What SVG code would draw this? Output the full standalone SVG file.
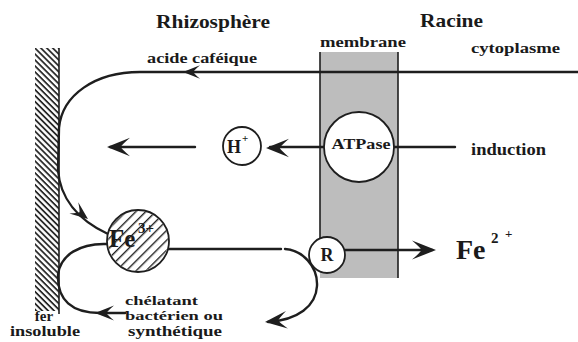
<svg xmlns="http://www.w3.org/2000/svg" xmlns:xlink="http://www.w3.org/1999/xlink" width="578" height="342" viewBox="0 0 578 342">
<defs>
<style>
text{font-family:"Liberation Serif","Times New Roman",serif;font-weight:bold;fill:#1a1a1a}
.ln{fill:none;stroke:#1e1e1e;stroke-width:2.4;stroke-linecap:round}
.thin{fill:none;stroke:#1e1e1e;stroke-width:1.6}
.circ{fill:#fff;stroke:#1e1e1e;stroke-width:1.8}
.ah{fill:#1e1e1e}
</style>
<pattern id="wallHatch" patternUnits="userSpaceOnUse" width="4.2" height="4.2" patternTransform="rotate(45)">
<rect x="0" y="0" width="4.2" height="1.8" fill="#2a2a2a"/>
</pattern>
<pattern id="feHatch" patternUnits="userSpaceOnUse" width="7" height="7" patternTransform="rotate(-45)">
<rect x="0" y="0" width="7" height="1.4" fill="#222"/>
</pattern>
<clipPath id="feClip"><circle cx="138" cy="241" r="30"/></clipPath>
<path id="ah" d="M0,0 L-20,-8 Q-13,-2 -12,0 Q-13,2 -20,8 Z"/>
</defs>
<rect width="578" height="342" fill="#fff"/>

<g id="labels">
<text x="156" y="28" font-size="19" textLength="114" lengthAdjust="spacingAndGlyphs">Rhizosphère</text>
<text x="420" y="27" font-size="19" textLength="63" lengthAdjust="spacingAndGlyphs">Racine</text>
<text x="471" y="53" font-size="15" textLength="89" lengthAdjust="spacingAndGlyphs">cytoplasme</text>
</g>

<g id="wall">
<rect x="35" y="48" width="24" height="263" fill="url(#wallHatch)"/>
<line x1="59" y1="48" x2="59" y2="314" stroke="#1e1e1e" stroke-width="1.6"/>
<text x="44" y="321" font-size="15" text-anchor="middle">fer</text>
<text x="10" y="336" font-size="15" textLength="70" lengthAdjust="spacingAndGlyphs">insoluble</text>
</g>

<g id="membrane">
<rect x="320" y="52" width="78" height="226" fill="#bdbdbd"/>
<line x1="320" y1="52" x2="320" y2="250" class="thin"/>
<line x1="398" y1="52" x2="398" y2="278" class="thin"/>
<text x="320" y="47" font-size="15" textLength="86" lengthAdjust="spacingAndGlyphs">membrane</text>
</g>

<g id="connectors">
<path class="ln" d="M578,72 L140,72 C95,72 62,95 59,128 L58,170 C60,198 78,220 108,234"/>
<path class="ln" d="M455,147 L394,147"/>
<path class="ln" d="M324,147 L270,147"/>
<path class="ln" d="M195,147 L110,147"/>
<path class="ln" d="M168,249 L281,249"/>
<path class="ln" d="M285,249 C302,250 318,266 317,286 C316,306 298,320 268,322"/>
<path class="ln" d="M107,244 C80,243 60,255 58,275 C57,300 72,313 100,313 L125,313"/>
<path class="ln" d="M345,250 L432,250"/>
<use xlink:href="#ah" class="ah" transform="translate(183,72) rotate(180) scale(0.85)"/>
<use xlink:href="#ah" class="ah" transform="translate(88,219) rotate(38) scale(0.9)"/>
<use xlink:href="#ah" class="ah" transform="translate(266,148) rotate(180) scale(1.15)"/>
<use xlink:href="#ah" class="ah" transform="translate(107,147) rotate(180) scale(1.15)"/>
<use xlink:href="#ah" class="ah" transform="translate(95,313) rotate(180) scale(0.95)"/>
<use xlink:href="#ah" class="ah" transform="translate(265,322) rotate(174) scale(1.1)"/>
<use xlink:href="#ah" class="ah" transform="translate(436,250) scale(1.2)"/>
<text x="147" y="63" font-size="15" textLength="110" lengthAdjust="spacingAndGlyphs">acide caféique</text>
<text x="471" y="155" font-size="16" textLength="75" lengthAdjust="spacingAndGlyphs">induction</text>
<text x="125" y="305" font-size="12.5" textLength="73" lengthAdjust="spacingAndGlyphs">chélatant</text>
<text x="125" y="320" font-size="13" textLength="98" lengthAdjust="spacingAndGlyphs">bactérien ou</text>
<text x="128" y="336" font-size="14" textLength="94" lengthAdjust="spacingAndGlyphs">synthétique</text>
</g>

<g id="atpase">
<circle cx="359" cy="147" r="35" class="circ"/>
<text x="361" y="149" font-size="15" text-anchor="middle" textLength="59" lengthAdjust="spacingAndGlyphs">ATPase</text>
</g>

<g id="hplus">
<circle cx="242" cy="146" r="19" class="circ"/>
<text x="227" y="153" font-size="18">H</text>
<text x="242" y="142" font-size="11">+</text>
</g>

<g id="fe3">
<circle cx="138" cy="241" r="31" fill="#fff"/>
<text x="109" y="247" font-size="25">Fe</text>
<text x="138" y="233" font-size="15">3+</text>
<rect x="105" y="208" width="66" height="66" fill="url(#feHatch)" clip-path="url(#feClip)"/>
<circle cx="138" cy="241" r="31" fill="none" stroke="#1e1e1e" stroke-width="1.8"/>
</g>

<g id="receptor">
<circle cx="327" cy="255" r="18" class="circ"/>
<text x="327" y="261" font-size="18" text-anchor="middle">R</text>
</g>

<g id="fe2">
<text x="456" y="259" font-size="28">Fe</text>
<text x="491" y="243" font-size="15">2</text>
<text x="505" y="238" font-size="13">+</text>
</g>
</svg>
